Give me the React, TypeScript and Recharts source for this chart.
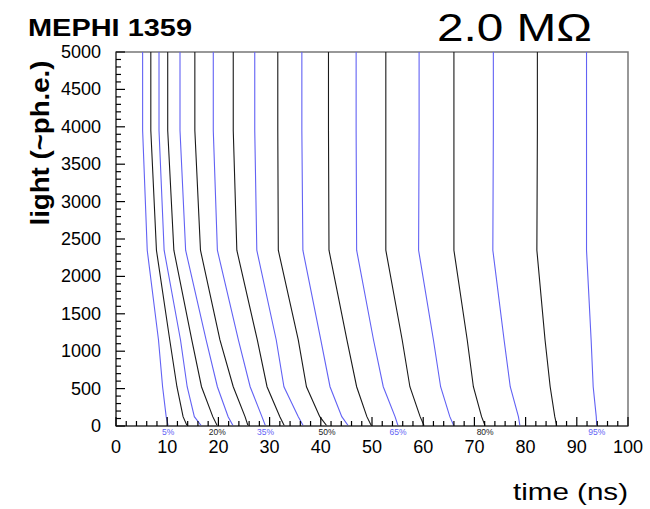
import React from 'react';
import { LineChart, Line, XAxis, YAxis, ReferenceArea, ReferenceDot } from 'recharts';

// light levels (y) at which every curve has a point
const lightLevels = [5000, 3950, 2350, 1150, 525, 125, 0];

// time (ns) of each curve at the light levels above
const curve05 = [5.2, 5.2, 6.1, 8.3, 9.1, 9.8, 10.2];
const curve10 = [6.8, 6.8, 7.9, 10.5, 11.9, 13.1, 13.9];
const curve15 = [8.4, 8.4, 9.4, 12.6, 13.9, 15.3, 16.7];
const curve20 = [10.1, 10.1, 11.3, 14.8, 16.7, 18.9, 19.8];
const curve25 = [12.5, 12.5, 13.6, 17.6, 19.8, 21.9, 22.9];
const curve30 = [15.4, 15.4, 16.5, 20.3, 22.9, 25.2, 25.8];
const curve35 = [19.0, 19.0, 19.8, 23.9, 26.2, 28.5, 29.2];
const curve40 = [22.9, 22.9, 23.6, 27.6, 29.5, 32.0, 32.9];
const curve45 = [27.1, 27.1, 27.5, 31.3, 32.8, 35.6, 36.6];
const curve50 = [31.6, 31.6, 31.7, 35.6, 37.2, 39.8, 41.2];
const curve55 = [36.3, 36.3, 36.5, 40.0, 41.8, 44.1, 45.4];
const curve60 = [41.5, 41.5, 41.6, 45.1, 47.0, 49.0, 49.9];
const curve65 = [46.9, 46.9, 47.0, 50.3, 52.2, 54.5, 55.1];
const curve70 = [52.7, 52.7, 52.7, 55.9, 57.4, 59.4, 60.2];
const curve75 = [59.2, 59.2, 59.1, 62.0, 63.4, 65.2, 66.0];
const curve80 = [66.0, 66.0, 66.0, 68.6, 69.8, 71.4, 72.1];
const curve85 = [73.7, 73.7, 73.6, 75.8, 77.0, 78.6, 78.9];
const curve90 = [82.3, 82.3, 82.2, 83.8, 84.8, 85.7, 86.1];
const curve95 = [91.9, 91.9, 91.9, 92.8, 93.2, 93.8, 93.9];

const curves = [
  curve05, curve10, curve15, curve20, curve25, curve30, curve35, curve40, curve45, curve50,
  curve55, curve60, curve65, curve70, curve75, curve80, curve85, curve90, curve95,
];

const BLUE = '#6262f4';
const BLACK = '#1a1a1a';

const pctLabels = ['5%', '20%', '35%', '50%', '65%', '80%', '95%'];
const pctCurveIndex = [0, 3, 6, 9, 12, 15, 18];

const xMajorTicks = [0, 10, 20, 30, 40, 50, 60, 70, 80, 90, 100];
const yMajorTicks = [0, 500, 1000, 1500, 2000, 2500, 3000, 3500, 4000, 4500, 5000];
const xTicks = Array.from({ length: 51 }, (_, i) => i * 2);
const yTicks = Array.from({ length: 51 }, (_, i) => i * 100);

const FONT = '"Liberation Sans", Arial, Helvetica, sans-serif';

const XTick = (props: any) => {
  const { x, y, payload } = props;
  const v = payload.value;
  const major = xMajorTicks.includes(v);
  return (
    <g>
      <line x1={x} y1={y} x2={x} y2={y - (major ? 9 : 5)} stroke="#000" strokeWidth={1.2} />
      {major && (
        <text x={x} y={y + 27} textAnchor="middle" fontSize={18} fontFamily={FONT} fill="#000">
          {v}
        </text>
      )}
    </g>
  );
};

const YTick = (props: any) => {
  const { x, y, payload } = props;
  const v = payload.value;
  const major = yMajorTicks.includes(v);
  return (
    <g>
      <line x1={x} y1={y} x2={x + (major ? 9 : 5)} y2={y} stroke="#000" strokeWidth={1.2} />
      {major && (
        <text x={x - 15} y={y + 6} textAnchor="end" fontSize={18} fontFamily={FONT} fill="#000">
          {v}
        </text>
      )}
    </g>
  );
};

export default function App() {
  return (
    <div style={{ position: 'absolute', left: 0, top: 0, width: 650, height: 509, background: '#fff' }}>
      <LineChart width={650} height={509} margin={{ top: 52, right: 22, left: 56, bottom: 43 }}>
        <XAxis
          dataKey="t"
          type="number"
          domain={[0, 100]}
          ticks={xTicks}
          interval={0}
          tickSize={0}
          tickMargin={0}
          tickLine={false}
          tick={<XTick />}
          height={40}
          axisLine={{ stroke: '#555', strokeWidth: 1.5 }}
          allowDataOverflow
        />
        <YAxis
          type="number"
          domain={[0, 5000]}
          ticks={yTicks}
          interval={0}
          tickSize={0}
          tickMargin={0}
          tickLine={false}
          tick={<YTick />}
          width={60}
          axisLine={{ stroke: '#555', strokeWidth: 1.5 }}
          allowDataOverflow
        />
        <ReferenceArea x1={0} x2={100} y1={0} y2={5000} fill="none" stroke="#777" strokeWidth={1.5} ifOverflow="visible" />
        {curves.map((c, i) => (
          <Line
            key={i}
            data={c.map((t, j) => ({ t, light: lightLevels[j] }))}
            dataKey="light"
            type="linear"
            stroke={i % 2 === 0 ? BLUE : BLACK}
            strokeWidth={1.1}
            dot={false}
            activeDot={false}
            isAnimationActive={false}
          />
        ))}
        {pctLabels.map((lab, k) => {
          const idx = pctCurveIndex[k];
          return (
            <ReferenceDot
              key={lab}
              x={curves[idx][6]}
              y={0}
              r={0}
              fill="none"
              stroke="none"
              ifOverflow="visible"
              label={{
                value: lab,
                position: 'bottom',
                offset: 3,
                fontSize: 8.5,
                fontFamily: FONT,
                fill: idx % 2 === 0 ? BLUE : '#222',
              }}
            />
          );
        })}
      </LineChart>
      <svg width={650} height={509} style={{ position: 'absolute', left: 0, top: 0, pointerEvents: 'none' }}>
        <text x={28} y={36} fontSize={24} fontWeight="bold" fontFamily={FONT} fill="#000" textLength={164} lengthAdjust="spacingAndGlyphs">
          MEPHI 1359
        </text>
        <text x={437} y={41} fontSize={39} fontFamily={FONT} fill="#000" textLength={155} lengthAdjust="spacingAndGlyphs">
          2.0 MΩ
        </text>
        <text
          x={0}
          y={0}
          transform="translate(49,143) rotate(-90)"
          textAnchor="middle"
          fontSize={25}
          fontWeight="bold"
          fontFamily={FONT}
          fill="#000"
          textLength={165}
          lengthAdjust="spacingAndGlyphs"
        >
          light (~ph.e.)
        </text>
        <text x={513} y={500} fontSize={24} fontFamily={FONT} fill="#000" textLength={115} lengthAdjust="spacingAndGlyphs">
          time (ns)
        </text>
      </svg>
    </div>
  );
}
